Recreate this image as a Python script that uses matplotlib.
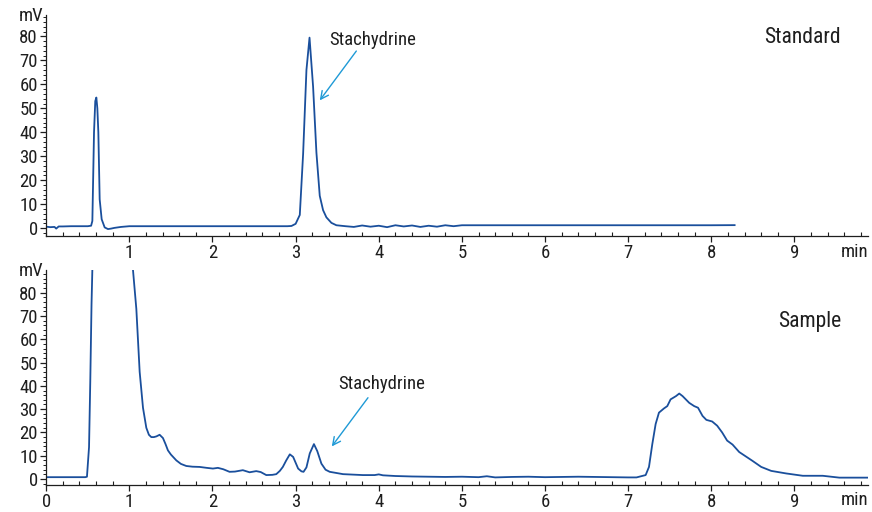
import matplotlib
matplotlib.use("Agg")
import matplotlib.pyplot as plt
from matplotlib.ticker import MultipleLocator

plt.rcParams['font.family'] = ['Roboto Condensed', 'DejaVu Sans']

# ---------------- data ----------------
std_time = [0.0, 0.05, 0.1, 0.12, 0.15, 0.2, 0.3, 0.4, 0.5, 0.54,
            0.555, 0.575, 0.59, 0.603, 0.615, 0.627, 0.643, 0.667, 0.703, 0.743,
            0.78, 0.82, 0.9, 1.0, 1.5, 2.0, 2.5, 2.9, 2.95, 3.0,
            3.05, 3.09, 3.13, 3.167, 3.21, 3.25, 3.29, 3.33, 3.37, 3.43,
            3.49, 3.6, 3.7, 3.8, 3.9, 4.0, 4.1, 4.2, 4.3, 4.4,
            4.5, 4.6, 4.7, 4.8, 4.9, 5.0, 6.0, 7.0, 8.0, 8.28]
std_mv = [0.6, 0.4, 0.5, -0.2, 0.7, 0.7, 0.8, 0.8, 0.8, 1.0,
          3, 40, 53, 54.5, 50, 40, 12, 3.7, 0.3, -0.4,
          -0.2, 0.1, 0.5, 0.8, 0.8, 0.8, 0.8, 0.8, 0.9, 1.8,
          5.5, 31, 66, 79.5, 59, 31.5, 13.5, 7.5, 4.5, 2.2,
          1.2, 0.8, 0.5, 1.1, 0.6, 1.0, 0.4, 1.2, 0.7, 1.1,
          0.5, 1.0, 0.6, 1.2, 0.8, 1.2, 1.2, 1.2, 1.2, 1.25]

sample_time = [0, 0.1, 0.2, 0.3, 0.4, 0.47, 0.49, 0.515, 0.53, 0.545,
               0.555, 0.565, 0.6, 0.99, 1.02, 1.043, 1.084, 1.124, 1.164, 1.204,
               1.235, 1.264, 1.295, 1.325, 1.364, 1.404, 1.435, 1.464, 1.5, 1.565,
               1.62, 1.685, 1.76, 1.845, 1.93, 2.005, 2.065, 2.13, 2.205, 2.27,
               2.365, 2.446, 2.526, 2.58, 2.647, 2.72, 2.767, 2.81, 2.846, 2.887,
               2.93, 2.97, 3.03, 3.07, 3.095, 3.13, 3.17, 3.22, 3.26, 3.31,
               3.36, 3.41, 3.57, 3.81, 3.95, 4.0, 4.05, 4.2, 4.4, 4.6,
               4.8, 5.0, 5.2, 5.3, 5.4, 5.6, 5.8, 6.0, 6.2, 6.4,
               6.6, 6.8, 7.0, 7.1, 7.21, 7.25, 7.29, 7.33, 7.37, 7.43,
               7.47, 7.51, 7.575, 7.614, 7.654, 7.734, 7.794, 7.84, 7.894, 7.94,
               8.01, 8.07, 8.13, 8.19, 8.255, 8.335, 8.415, 8.495, 8.6, 8.72,
               8.9, 9.1, 9.34, 9.54, 9.7, 9.88]
sample_mv = [0.8, 0.8, 0.8, 0.8, 0.8, 0.8, 1.0, 13.7, 42, 75,
             90, 120, 200, 200, 105, 90, 73, 46, 30.6, 22,
             19, 18, 18, 18.3, 19, 17.6, 15, 12.3, 10.5, 8,
             6.5, 5.6, 5.3, 5.2, 4.8, 4.5, 4.8, 4.2, 3.1, 3.2,
             3.8, 2.9, 3.4, 3.0, 1.7, 1.8, 2.1, 3.5, 5.2, 8.0,
             10.6, 9.5, 4.5, 3.3, 3.1, 5, 11, 15, 12, 6.6,
             4, 3.1, 2.1, 1.7, 1.7, 2.0, 1.6, 1.3, 1.1, 1.0,
             0.9, 1.0, 0.8, 1.2, 0.7, 0.9, 1.0, 0.8, 0.9, 1.0,
             0.9, 0.8, 0.7, 0.7, 1.7, 5.2, 15, 23.6, 28.5, 30.3,
             31.3, 34.2, 35.6, 36.7, 35.6, 32.7, 31.3, 30.6, 27.1, 25.4,
             24.7, 22.9, 20, 16.5, 14.8, 11.6, 9.7, 7.8, 5.2, 3.5,
             2.4, 1.4, 1.4, 0.6, 0.6, 0.6]

y_ticks = [0, 10, 20, 30, 40, 50, 60, 70, 80]
top_x_ticks = [1, 2, 3, 4, 5, 6, 7, 8, 9]
bottom_x_ticks = [0, 1, 2, 3, 4, 5, 6, 7, 8, 9]
panel_titles = ["Standard", "Sample"]
compound = "Stachydrine"

# ---------------- style ----------------
line_color = "#1a4f9c"
arrow_color = "#1f9ad6"
text_color = "#1e1e1e"

fig = plt.figure(figsize=(8.72, 5.12), dpi=100)
ax1 = fig.add_axes([0.053, 0.539, 0.942, 0.432])
ax2 = fig.add_axes([0.053, 0.053, 0.942, 0.420])


def style_axis(ax, xticks, ylim):
    ax.set_xlim(0, 9.88)
    ax.set_ylim(*ylim)
    for s in ("top", "right"):
        ax.spines[s].set_visible(False)
    for s in ("left", "bottom"):
        ax.spines[s].set_color(text_color)
        ax.spines[s].set_linewidth(0.9)
    ax.set_xticks(xticks)
    ax.set_xticklabels([str(v) for v in xticks])
    ax.xaxis.set_minor_locator(MultipleLocator(0.2))
    ax.set_yticks(y_ticks)
    ax.set_yticklabels([str(v) for v in y_ticks])
    ax.yaxis.set_minor_locator(MultipleLocator(2))
    ax.tick_params(axis="x", which="major", direction="out", length=4,
                   width=0.9, colors=text_color, labelsize=13.5, pad=1.5)
    ax.tick_params(axis="x", which="minor", direction="in", length=3,
                   width=0.8, colors=text_color)
    ax.tick_params(axis="y", which="major", direction="out", length=4,
                   width=0.9, colors=text_color, labelsize=13.5, pad=2)
    ax.tick_params(axis="y", which="minor", direction="out", length=2,
                   width=0.7, colors=text_color)
    ax.text(-0.004, 0.995, "mV", transform=ax.transAxes, ha="right",
            va="center", fontsize=13.5, color=text_color)
    ax.text(9.72, -0.03, "min", transform=ax.get_xaxis_transform(),
            ha="center", va="top", fontsize=13.5, color=text_color)


style_axis(ax1, top_x_ticks, (-3.3, 89))
style_axis(ax2, bottom_x_ticks, (-2.5, 89.8))

ax1.plot(std_time, std_mv, color=line_color, lw=1.3)
ax2.plot(sample_time, sample_mv, color=line_color, lw=1.3)

ax1.text(9.09, 79.6, panel_titles[0], ha="center", va="center",
         fontsize=15.5, color=text_color)
ax2.text(9.18, 67.5, panel_titles[1], ha="center", va="center",
         fontsize=15.5, color=text_color)

ax1.text(3.93, 78.5, compound, ha="center", va="center", fontsize=13.5,
         color=text_color)
ax1.annotate("", xy=(3.29, 53.3), xytext=(3.73, 73.9),
             arrowprops=dict(arrowstyle="->", color=arrow_color, lw=1.0,
                             mutation_scale=14, shrinkA=0, shrinkB=0))
ax2.text(4.04, 40.8, compound, ha="center", va="center", fontsize=13.5,
         color=text_color)
ax2.annotate("", xy=(3.435, 14), xytext=(3.87, 34.9),
             arrowprops=dict(arrowstyle="->", color=arrow_color, lw=1.0,
                             mutation_scale=14, shrinkA=0, shrinkB=0))

fig.savefig("out.png", dpi=100)
